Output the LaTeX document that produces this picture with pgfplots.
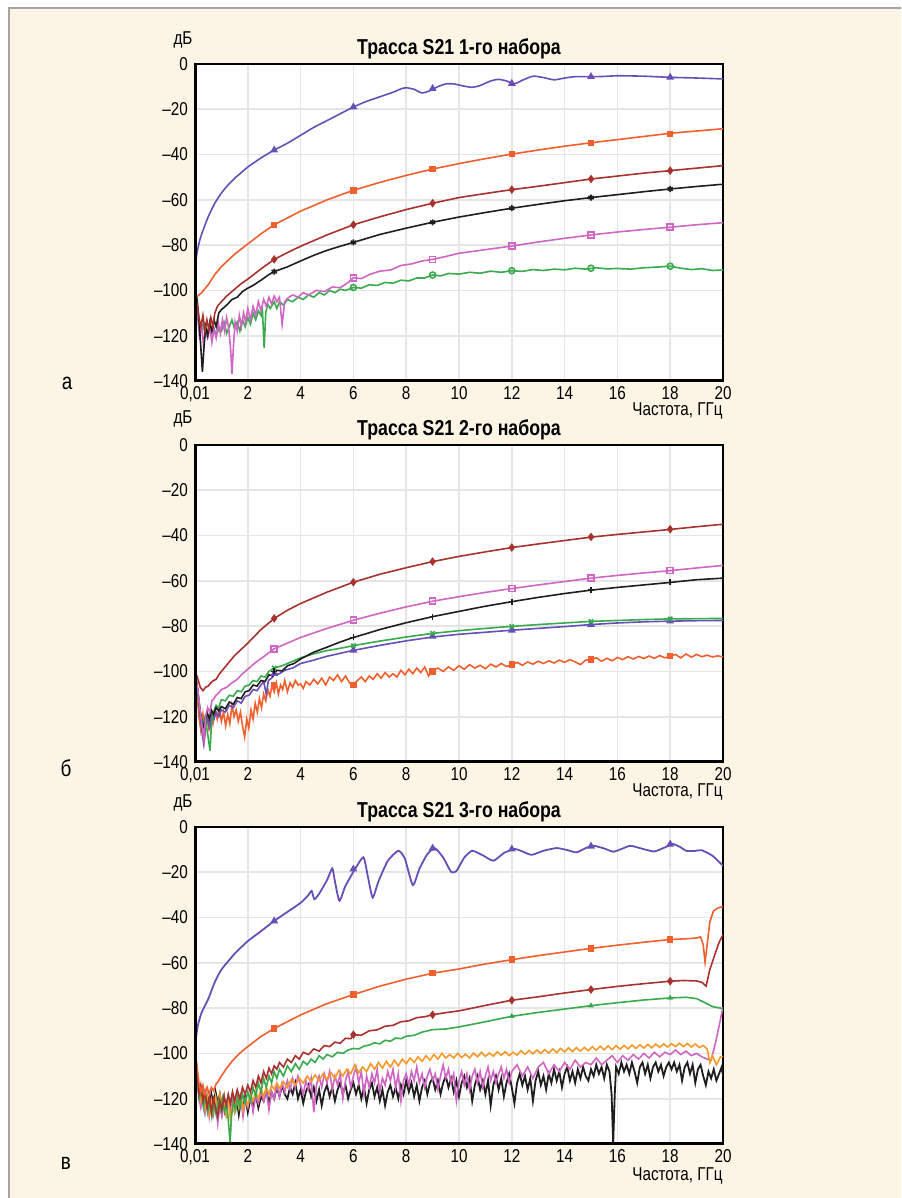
\documentclass[border=0pt]{standalone}
\usepackage{pgfplots}
\pgfplotsset{compat=1.18}
\usepackage{fontspec}
\setmainfont{Liberation Sans}[FakeStretch=0.82]

\definecolor{cream}{RGB}{252,245,230}
\definecolor{frame}{RGB}{165,165,165}
\definecolor{cpurple}{RGB}{102,80,184}
\definecolor{cred}{RGB}{240,96,47}
\definecolor{cbrown}{RGB}{168,50,45}
\definecolor{cpink}{RGB}{208,102,196}
\definecolor{cgreen}{RGB}{58,170,78}
\definecolor{corange}{RGB}{245,154,42}
\definecolor{cblack}{RGB}{30,30,30}

\pgfplotsset{
  panel/.style={
    scale only axis, width=264pt, height=158.5pt, anchor=south west,
    xmin=0, xmax=20, ymin=-140, ymax=0,
    xtick={0,2,...,20}, xticklabels={{0,01},2,4,6,8,10,12,14,16,18,20},
    ytick={-140,-120,...,0}, yticklabels={--140,--120,--100,--80,--60,--40,--20,0},
    major tick length=0pt, grid=major, grid style={black!10, line width=0.8pt},
    axis line style={line width=0.7pt},
    tick label style={font=\fontsize{9.3}{11}\selectfont},
    xticklabel style={inner sep=1pt, yshift=-1.5pt},
    axis background/.style={fill=white},
    every axis plot/.append style={line width=0.8pt},
  },
  mk/.style={only marks, mark size=1.5pt},
}
\newcommand\tick{\fontsize{9.3}{11}\selectfont}
\newcommand\ttl{\bfseries\fontsize{10.8}{12}\selectfont}

\begin{document}
\begin{tikzpicture}
\useasboundingbox (0,0) rectangle (450.5pt,599pt);
\fill[white] (0,0) rectangle (450.5pt,599pt);
\fill[cream] (4.5pt,0) rectangle (450.5pt,595pt);
\draw[frame, line width=1pt] (4.5pt,0) -- (4.5pt,595pt) -- (450.5pt,595pt);

% ---------- panel a
\begin{axis}[panel, name=p1, at={(97.5pt,408.5pt)}]
\addplot[cgreen] coordinates {(0.01,-104) (0.1,-112) (0.2,-118) (0.3,-115) (0.4,-120) (0.5,-117) (0.6,-119) (0.7,-116) (0.8,-120) (0.9,-117) (1,-118) (1.1,-114) (1.2,-119) (1.3,-116) (1.4,-113) (1.5,-117) (1.6,-114) (1.7,-118) (1.8,-113) (1.9,-116) (2,-112) (2.1,-115) (2.2,-110) (2.3,-113) (2.4,-109) (2.5,-111) (2.55,-108) (2.62,-125.5) (2.68,-110) (2.75,-106) (2.85,-108) (3,-105) (3.1,-108) (3.2,-105) (3.35,-106.5) (3.5,-104) (3.7,-105) (3.9,-103) (4.1,-104) (4.3,-102) (4.5,-103) (4.7,-101) (4.9,-102) (5.1,-100) (5.3,-101) (5.5,-99.5) (5.7,-100) (6,-98.7) (6.3,-99) (6.6,-97.5) (6.9,-97.8) (7.2,-96.5) (7.5,-96.8) (7.8,-95.5) (8.1,-95.8) (8.4,-94.5) (8.7,-94.5) (9,-93.2) (9.3,-93.6) (9.6,-92.5) (10,-92.8) (10.4,-92) (10.8,-92.4) (11.2,-91.5) (11.6,-92) (12,-91.3) (12.4,-91.6) (12.8,-90.8) (13.2,-91.2) (13.6,-90.6) (14,-90.9) (14.4,-90.2) (14.8,-90.6) (15.2,-90) (15.6,-90.5) (16,-90.3) (16.5,-90.6) (17,-90) (17.5,-89.7) (18,-89.3) (18.4,-90.2) (18.8,-90.8) (19.2,-90.4) (19.6,-91.2) (20,-91)};
\addplot[cgreen, mk, mark=o] coordinates {(6,-98.7) (9,-93.2) (12,-91.3) (15,-90.2) (18,-89.3)};
\addplot[cpink] coordinates {(0.01,-100) (0.1,-110) (0.18,-122) (0.25,-114) (0.32,-124) (0.4,-118) (0.48,-121) (0.56,-116) (0.64,-123) (0.72,-117) (0.8,-121) (0.88,-114) (0.96,-119) (1.04,-113) (1.12,-118) (1.2,-112) (1.28,-117) (1.35,-126) (1.4,-137) (1.46,-124) (1.52,-114) (1.6,-118) (1.68,-111) (1.76,-116) (1.84,-110) (1.92,-114) (2,-108) (2.1,-113) (2.2,-107) (2.3,-111) (2.4,-105) (2.5,-109) (2.6,-104) (2.7,-107) (2.8,-103) (2.9,-106) (3,-102.5) (3.1,-105) (3.2,-103) (3.3,-115) (3.4,-105) (3.5,-103.5) (3.7,-102) (3.9,-103) (4.1,-101) (4.3,-102) (4.6,-100) (4.9,-100.5) (5.2,-98.5) (5.5,-98.8) (5.8,-96.5) (6,-94.4) (6.3,-94.8) (6.6,-93) (7,-91.5) (7.4,-91) (7.8,-89) (8.2,-88.3) (8.6,-87) (9,-86.3) (9.5,-85) (10,-83.6) (11,-82) (12,-80.4) (13,-78.6) (14,-77) (15,-75.5) (16,-74.2) (17,-73.1) (18,-72.1) (19,-71) (20,-70.1)};
\addplot[cpink, mk, mark=square] coordinates {(6,-94.4) (9,-86.3) (12,-80.4) (15,-75.5) (18,-72.1)};
\addplot[cblack] coordinates {(0.01,-100) (0.08,-104) (0.15,-113) (0.22,-125) (0.28,-136) (0.33,-127) (0.4,-116) (0.48,-120) (0.56,-114) (0.64,-118) (0.72,-113) (0.8,-116) (0.9,-110) (1,-108.5) (1.2,-106.5) (1.4,-104) (1.6,-103) (1.8,-100.5) (2,-99) (2.2,-97.8) (2.5,-95.5) (2.8,-93) (3,-91.7) (3.5,-89.6) (4,-87) (4.5,-84.5) (5,-82.3) (5.5,-80.5) (6,-78.8) (7,-75.3) (8,-72.5) (9,-69.9) (10,-67.6) (11,-65.6) (12,-63.7) (13,-62) (14,-60.4) (15,-59) (16,-57.7) (17,-56.4) (18,-55.2) (19,-54.1) (20,-53.1)};
\addplot[cblack, mk, mark=asterisk] coordinates {(3,-91.7) (6,-78.8) (9,-69.9) (12,-63.7) (15,-59) (18,-55.2)};
\addplot[cbrown] coordinates {(0.01,-103) (0.08,-106) (0.15,-112) (0.22,-116) (0.3,-111) (0.38,-118) (0.45,-113) (0.52,-117) (0.6,-112) (0.68,-116) (0.75,-110) (0.85,-107) (1,-105) (1.2,-102.5) (1.5,-99.5) (1.75,-97) (2,-95) (2.5,-90.5) (3,-86.3) (3.5,-83.3) (4,-80.5) (5,-75.5) (6,-71) (7,-67.5) (8,-64.3) (9,-61.5) (10,-59) (11,-57.2) (12,-55.5) (13,-54) (14,-52.4) (15,-50.8) (16,-49.5) (17,-48.2) (18,-47.1) (19,-46) (20,-44.9)};
\addplot[cbrown, mk, mark=diamond*] coordinates {(3,-86.3) (6,-71) (9,-61.5) (12,-55.5) (15,-50.8) (18,-47.1)};
\addplot[cred] coordinates {(0.01,-103) (0.1,-102.5) (0.25,-101) (0.5,-97.5) (0.75,-93) (1,-89.5) (1.5,-84) (2,-79.5) (2.5,-75) (3,-71) (3.5,-68) (4,-65) (5,-60) (6,-55.8) (7,-52.3) (8,-49.2) (9,-46.4) (10,-44) (11,-41.8) (12,-39.8) (13,-38) (14,-36.3) (15,-34.8) (16,-33.4) (17,-32) (18,-30.6) (19,-29.6) (20,-28.6)};
\addplot[cred, mk, mark=square*, mark size=1.2pt] coordinates {(3,-71) (6,-55.8) (9,-46.4) (12,-39.8) (15,-34.8) (18,-30.8)};
\addplot[cpurple, smooth, tension=0.4] coordinates {(0.01,-88) (0.1,-82) (0.2,-77) (0.35,-72) (0.5,-67.5) (0.75,-61.5) (1,-57) (1.25,-53.5) (1.5,-50.5) (1.75,-48) (2,-45.5) (2.5,-41.5) (3,-38) (3.5,-35) (4,-31.5) (4.5,-28) (5,-25) (5.5,-22) (6,-19) (6.5,-16.5) (7,-14.5) (7.5,-12.5) (7.8,-11) (8,-10.5) (8.3,-11.2) (8.6,-12.8) (8.9,-11.8) (9.2,-10) (9.5,-8.8) (9.8,-8.8) (10.2,-9.8) (10.5,-10.3) (10.8,-9.5) (11.2,-7.5) (11.5,-6.8) (11.8,-7.5) (12.1,-8.7) (12.4,-7.2) (12.8,-5.4) (13.2,-6) (13.6,-7) (14,-6.2) (14.4,-5.6) (15,-5.6) (15.5,-5.5) (16,-5.2) (17,-5.4) (18,-5.9) (19,-6.2) (20,-6.6)};
\addplot[cpurple, mk, mark=triangle*] coordinates {(3,-38) (6,-19) (9,-10.9) (12,-8.6) (15,-5.6) (18,-5.9)};
\end{axis}
\draw[line width=1.5pt] (p1.north west) -- (p1.south west) -- (p1.south east);
\node[anchor=base, font=\ttl] at ([yshift=4.5pt]p1.north) {Трасса S21 1-го набора};
\node[font=\tick] at ([xshift=-6pt,yshift=12pt]p1.north west) {дБ};
\node[anchor=base east, font=\tick, inner sep=0pt] at ([yshift=-17.5pt]p1.south east) {Частота, ГГц};
\node[anchor=base, font=\fontsize{11.5}{13}\selectfont] at ([xshift=-64pt,yshift=-4.5pt]p1.south west) {а};

% ---------- panel b
\begin{axis}[panel, name=p2, at={(97.5pt,218pt)}]
\addplot[cred] coordinates {(0.01,-102) (0.08,-110) (0.15,-120) (0.22,-126) (0.3,-119) (0.38,-128) (0.45,-121) (0.52,-125) (0.6,-118) (0.68,-123) (0.76,-117) (0.84,-121) (0.92,-116) (1,-122) (1.08,-118) (1.16,-124) (1.24,-119) (1.32,-123) (1.4,-115) (1.48,-120) (1.56,-117) (1.64,-122) (1.72,-118) (1.8,-124) (1.88,-129) (1.96,-121) (2.04,-125) (2.12,-117) (2.2,-121) (2.28,-114) (2.36,-118) (2.44,-112) (2.52,-116) (2.6,-110) (2.68,-113) (2.76,-108) (2.84,-111) (2.92,-106) (3,-109) (3.08,-105) (3.16,-110) (3.24,-106) (3.32,-108) (3.4,-104) (3.5,-109) (3.6,-105) (3.7,-107) (3.8,-104) (3.9,-106) (4,-105.5) (4.1,-107.5) (4.2,-104.5) (4.35,-106) (4.5,-103.5) (4.65,-105.5) (4.8,-103) (4.95,-106) (5.1,-102.5) (5.25,-104) (5.4,-101.5) (5.55,-104.5) (5.7,-102) (5.85,-105) (6,-106) (6.15,-104) (6.3,-102.5) (6.45,-104.5) (6.6,-102) (6.75,-103.5) (6.9,-101) (7.05,-103) (7.2,-100.5) (7.35,-102.5) (7.5,-101) (7.65,-102.5) (7.8,-99.5) (7.95,-101.5) (8.1,-99) (8.25,-101) (8.4,-98.5) (8.55,-100.5) (8.7,-98) (8.85,-102) (9,-99.5) (9.2,-98.5) (9.4,-100) (9.6,-98) (9.8,-99.5) (10,-97.5) (10.2,-99) (10.4,-97) (10.6,-98.5) (10.8,-97.3) (11,-98.8) (11.2,-96.8) (11.4,-98) (11.6,-96.5) (11.8,-97.8) (12,-97.2) (12.2,-96) (12.4,-97.3) (12.6,-95.8) (12.8,-96.8) (13,-95.5) (13.2,-96.5) (13.4,-95.3) (13.6,-96.3) (13.8,-95) (14,-96) (14.2,-94.8) (14.4,-95.8) (14.6,-97) (14.8,-95) (15,-94.8) (15.2,-94) (15.4,-95.5) (15.6,-94.2) (15.8,-95.3) (16,-93.8) (16.2,-94.8) (16.4,-93.5) (16.6,-94.5) (16.8,-93.4) (17,-94.3) (17.2,-93.2) (17.4,-94.2) (17.6,-93) (17.8,-94) (18,-93.3) (18.2,-92.5) (18.4,-94) (18.6,-92.3) (18.8,-93.7) (19,-92.5) (19.2,-93.5) (19.4,-92.8) (19.6,-93.6) (19.8,-93.1) (20,-93.6)};
\addplot[cred, mk, mark=square*, mark size=1.2pt] coordinates {(3,-106) (6,-106) (9,-100) (12,-97) (15,-94.8) (18,-93.3)};
\addplot[cpurple] coordinates {(0.01,-100) (0.1,-108) (0.2,-120) (0.28,-128) (0.33,-132) (0.4,-124) (0.48,-121) (0.56,-125) (0.64,-119) (0.72,-121) (0.8,-118) (0.9,-120) (1,-117) (1.15,-118) (1.3,-115) (1.45,-116) (1.6,-113) (1.75,-114) (1.9,-111) (2.05,-110.5) (2.2,-108) (2.35,-108.5) (2.5,-106) (2.6,-104.5) (2.7,-110) (2.78,-104) (2.9,-103) (3,-101.5) (3.2,-101) (3.4,-99.5) (3.7,-98.5) (4,-96.5) (4.5,-95) (5,-93.3) (5.5,-92) (6,-90.7) (7,-88.5) (8,-86.5) (9,-84.8) (10,-83.6) (11,-82.7) (12,-81.8) (13,-81) (14,-80.2) (15,-79.3) (16,-78.6) (17,-78.1) (18,-77.8) (19,-77.6) (20,-77.5)};
\addplot[cpurple, mk, mark=triangle*] coordinates {(3,-101) (6,-90.7) (9,-84.5) (12,-81.8) (15,-79.3) (18,-77.8)};
\addplot[cgreen] coordinates {(0.01,-102) (0.1,-110) (0.2,-118) (0.3,-123) (0.38,-120) (0.46,-126) (0.52,-131) (0.57,-135) (0.62,-124) (0.7,-118) (0.8,-115) (0.9,-116) (1,-112.5) (1.15,-113) (1.3,-110.5) (1.45,-111) (1.6,-108.5) (1.75,-109) (1.9,-106.5) (2.05,-106) (2.2,-104) (2.35,-104.5) (2.5,-102) (2.65,-102.5) (2.8,-100) (3,-98.5) (3.3,-97.5) (3.6,-96) (4,-94) (4.5,-92.2) (5,-90.8) (5.5,-89.8) (6,-88.6) (7,-86.6) (8,-84.8) (9,-83.2) (10,-82) (11,-81) (12,-80.1) (13,-79.3) (14,-78.6) (15,-77.9) (16,-77.5) (17,-77.1) (18,-76.8) (19,-76.7) (20,-76.6)};
\addplot[cgreen, mk, mark=x] coordinates {(3,-98.5) (6,-88.6) (9,-83.2) (12,-80.1) (15,-77.9) (18,-76.8)};
\addplot[cblack] coordinates {(0.01,-102) (0.1,-108) (0.2,-118) (0.3,-125) (0.38,-122) (0.46,-118) (0.54,-121) (0.62,-117) (0.7,-119) (0.8,-116) (0.9,-117.5) (1,-115.5) (1.15,-116.5) (1.3,-113.5) (1.45,-114.5) (1.6,-111.5) (1.75,-112) (1.9,-109) (2.05,-108.5) (2.2,-106) (2.35,-106.5) (2.5,-104) (2.65,-104.5) (2.8,-101.5) (2.95,-102) (3.1,-99.5) (3.3,-99.8) (3.5,-97.5) (3.75,-96.5) (4,-94.5) (4.5,-91.5) (5,-89.3) (5.5,-87) (6,-85) (6.5,-83.3) (7,-81.5) (7.5,-80) (8,-78.5) (9,-75.8) (10,-73.5) (11,-71.2) (12,-69.2) (13,-67.3) (14,-65.6) (15,-64.1) (16,-62.9) (17,-61.8) (18,-60.7) (19,-59.5) (20,-58.8)};
\addplot[cblack, mk, mark=+] coordinates {(3,-100) (6,-85) (9,-75.8) (12,-69.2) (15,-64.1) (18,-60.7)};
\addplot[cpink] coordinates {(0.01,-101) (0.1,-108) (0.2,-118) (0.28,-125) (0.34,-130) (0.4,-120) (0.48,-116) (0.56,-118) (0.64,-113) (0.72,-112) (0.8,-110.5) (0.9,-109.5) (1,-108) (1.2,-107) (1.4,-105) (1.6,-103.5) (1.8,-101) (2,-99) (2.3,-96) (2.6,-93.5) (3,-90) (3.5,-87.5) (4,-85) (5,-81) (6,-77.4) (7,-74.3) (8,-71.5) (9,-69) (10,-67) (11,-65.1) (12,-63.4) (13,-61.8) (14,-60.3) (15,-58.8) (16,-57.6) (17,-56.5) (18,-55.5) (19,-54.3) (20,-53.2)};
\addplot[cpink, mk, mark=square] coordinates {(3,-90) (6,-77.4) (9,-69) (12,-63.4) (15,-58.8) (18,-55.5)};
\addplot[cbrown] coordinates {(0.01,-100) (0.1,-103) (0.2,-107) (0.3,-108.5) (0.4,-107) (0.5,-106.5) (0.6,-105) (0.7,-104) (0.8,-103.5) (0.9,-101.5) (1,-100) (1.25,-96.5) (1.5,-93) (2,-87.5) (2.5,-81.5) (3,-76.6) (3.5,-73) (4,-70) (5,-65) (6,-60.6) (7,-57.1) (8,-54.2) (9,-51.5) (10,-49.2) (11,-47.2) (12,-45.3) (13,-43.7) (14,-42.2) (15,-40.7) (16,-39.5) (17,-38.4) (18,-37.3) (19,-36.1) (20,-35)};
\addplot[cbrown, mk, mark=diamond*] coordinates {(3,-76.6) (6,-60.6) (9,-51.5) (12,-45.3) (15,-40.6) (18,-37.2)};
\end{axis}
\draw[line width=1.5pt] (p2.north west) -- (p2.south west) -- (p2.south east);
\node[anchor=base, font=\ttl] at ([yshift=4.5pt]p2.north) {Трасса S21 2-го набора};
\node[font=\tick] at ([xshift=-6pt,yshift=13pt]p2.north west) {дБ};
\node[anchor=base east, font=\tick, inner sep=0pt] at ([yshift=-17.5pt]p2.south east) {Частота, ГГц};
\node[anchor=base, font=\fontsize{11.5}{13}\selectfont] at ([xshift=-64.5pt,yshift=-7.3pt]p2.south west) {б};

% ---------- panel c
\begin{axis}[panel, name=p3, at={(97.5pt,27pt)}]
\addplot[cblack, line width=0.9pt] coordinates {(0.01,-100) (0.08,-109) (0.15,-118) (0.22,-122) (0.3,-117) (0.38,-125) (0.46,-119) (0.54,-124) (0.62,-118) (0.7,-123) (0.78,-117) (0.86,-122) (0.94,-118) (1.02,-124) (1.1,-119) (1.18,-126) (1.26,-120) (1.34,-123) (1.42,-118) (1.5,-125) (1.58,-120) (1.66,-127) (1.74,-121) (1.82,-124) (1.9,-119) (2,-126) (2.1,-120) (2.2,-123) (2.3,-118) (2.4,-124) (2.5,-119) (2.6,-121) (2.7,-116) (2.8,-122) (2.9,-117) (3,-120) (3.1,-115) (3.2,-119) (3.3,-114) (3.4,-118) (3.5,-120) (3.6,-115) (3.7,-118) (3.8,-113) (3.9,-120) (4,-116) (4.1,-122) (4.2,-117) (4.3,-114) (4.4,-119) (4.5,-115) (4.6,-121) (4.7,-116) (4.8,-123) (4.9,-117) (5,-114) (5.1,-119) (5.2,-115) (5.3,-121) (5.4,-116) (5.5,-113) (5.6,-118) (5.7,-114) (5.8,-120) (5.9,-116) (6,-113) (6.1,-118) (6.2,-114) (6.3,-120) (6.4,-115) (6.5,-122) (6.6,-116) (6.7,-113) (6.8,-119) (6.9,-115) (7,-121) (7.1,-116) (7.2,-123) (7.3,-117) (7.4,-114) (7.5,-119) (7.6,-115) (7.7,-120) (7.8,-114) (7.9,-118) (8,-112) (8.1,-117) (8.2,-113) (8.3,-119) (8.4,-114) (8.5,-121) (8.6,-115) (8.7,-112) (8.8,-118) (8.9,-113) (9,-111) (9.1,-116) (9.2,-112) (9.3,-118) (9.4,-113) (9.5,-110) (9.6,-115) (9.7,-111) (9.8,-117) (9.9,-112) (10,-119) (10.1,-113) (10.2,-110) (10.3,-115) (10.4,-111) (10.5,-121) (10.6,-114) (10.7,-110) (10.8,-116) (10.9,-112) (11,-118) (11.1,-112) (11.2,-123) (11.3,-114) (11.4,-110) (11.5,-116) (11.6,-111) (11.7,-119) (11.8,-113) (11.9,-109) (12,-115) (12.1,-122) (12.2,-113) (12.3,-109) (12.4,-114) (12.5,-110) (12.6,-116) (12.7,-111) (12.8,-121) (12.9,-112) (13,-108) (13.1,-114) (13.2,-110) (13.3,-116) (13.4,-109) (13.5,-113) (13.6,-107) (13.7,-112) (13.8,-108) (13.9,-115) (14,-109) (14.1,-106) (14.2,-112) (14.3,-108) (14.4,-113) (14.5,-107) (14.6,-111) (14.7,-106) (14.8,-110) (14.9,-112) (15,-107) (15.1,-110) (15.2,-105) (15.3,-109) (15.4,-106) (15.5,-111) (15.6,-105) (15.7,-108) (15.78,-118) (15.84,-140) (15.9,-118) (15.95,-106) (16.05,-109) (16.15,-104) (16.25,-108) (16.35,-105) (16.45,-109) (16.55,-104) (16.65,-108) (16.75,-113) (16.85,-106) (16.95,-104) (17.05,-109) (17.15,-105) (17.25,-111) (17.35,-106) (17.45,-104) (17.55,-108) (17.65,-105) (17.75,-110) (17.85,-106) (17.95,-104) (18.05,-107) (18.15,-104) (18.25,-108) (18.35,-105) (18.45,-112) (18.55,-106) (18.65,-104) (18.75,-109) (18.85,-105) (18.95,-113) (19.05,-107) (19.15,-105) (19.25,-110) (19.35,-114) (19.45,-108) (19.55,-111) (19.65,-107) (19.75,-112) (19.85,-109) (19.95,-106) (20,-110)};
\addplot[cpink] coordinates {(0.01,-100) (0.08,-110) (0.15,-120) (0.22,-124) (0.3,-118) (0.38,-126) (0.46,-120) (0.54,-128) (0.62,-121) (0.7,-127) (0.78,-122) (0.86,-131) (0.94,-123) (1.02,-128) (1.1,-121) (1.18,-126) (1.26,-120) (1.34,-125) (1.42,-119) (1.5,-124) (1.58,-118) (1.66,-123) (1.74,-120) (1.82,-128) (1.9,-121) (2,-124) (2.1,-118) (2.2,-126) (2.3,-119) (2.4,-122) (2.5,-117) (2.6,-121) (2.7,-116) (2.8,-125) (2.9,-117) (3,-120) (3.1,-114) (3.2,-119) (3.3,-113) (3.4,-117) (3.5,-112) (3.6,-116) (3.7,-111) (3.8,-115) (3.9,-110) (4,-114) (4.1,-118) (4.2,-112) (4.3,-116) (4.4,-111) (4.5,-126) (4.6,-114) (4.7,-110) (4.8,-115) (4.9,-109) (5,-113) (5.1,-108) (5.2,-116) (5.3,-110) (5.4,-114) (5.5,-109) (5.6,-120) (5.7,-112) (5.8,-108) (5.9,-115) (6,-110) (6.1,-106) (6.2,-113) (6.3,-108) (6.4,-118) (6.5,-110) (6.6,-115) (6.7,-109) (6.8,-113) (6.9,-107) (7,-117) (7.1,-111) (7.2,-114) (7.3,-108) (7.4,-112) (7.5,-107) (7.6,-115) (7.7,-109) (7.8,-121) (7.9,-112) (8,-109) (8.1,-114) (8.2,-108) (8.3,-112) (8.4,-106) (8.5,-113) (8.6,-109) (8.7,-115) (8.8,-110) (8.9,-107) (9,-112) (9.1,-109) (9.2,-116) (9.3,-110) (9.4,-105) (9.5,-111) (9.6,-107) (9.7,-113) (9.8,-109) (9.9,-121) (10,-112) (10.1,-108) (10.2,-114) (10.3,-109) (10.4,-116) (10.5,-110) (10.6,-107) (10.7,-113) (10.8,-108) (10.9,-115) (11,-110) (11.1,-106) (11.2,-112) (11.3,-108) (11.4,-113) (11.5,-109) (11.6,-106) (11.7,-111) (11.8,-107) (11.9,-113) (12,-108) (12.2,-105) (12.4,-110) (12.6,-106) (12.8,-111) (13,-106) (13.2,-104) (13.4,-109) (13.6,-105) (13.8,-108) (14,-104) (14.2,-107) (14.4,-103) (14.6,-106) (14.8,-104) (15,-105) (15.2,-102) (15.4,-105) (15.6,-103) (15.8,-101) (16,-104) (16.2,-101) (16.4,-103) (16.6,-100.5) (16.8,-102.5) (17,-100) (17.2,-102) (17.4,-99.5) (17.6,-101.5) (17.8,-99.5) (18,-100.5) (18.2,-98.5) (18.4,-100.5) (18.6,-99) (18.8,-101) (19,-100) (19.2,-101.5) (19.4,-102.5) (19.55,-103) (19.7,-96) (19.85,-88) (20,-79.5)};
\addplot[corange] coordinates {(0.01,-100) (0.08,-108) (0.15,-116) (0.22,-121) (0.3,-117) (0.38,-124) (0.46,-119) (0.54,-127) (0.62,-121) (0.7,-125) (0.78,-119) (0.86,-124) (0.94,-118) (1.02,-123) (1.1,-119) (1.18,-127) (1.26,-121) (1.34,-129) (1.42,-123) (1.5,-126) (1.58,-120) (1.66,-124) (1.74,-119) (1.82,-125) (1.9,-120) (2,-123) (2.1,-118) (2.2,-121) (2.3,-117) (2.4,-120) (2.5,-115.5) (2.6,-119) (2.7,-115) (2.8,-118) (2.9,-114) (3,-116) (3.1,-113) (3.2,-115.5) (3.35,-112.5) (3.5,-115) (3.65,-111.5) (3.8,-114) (3.95,-111) (4.1,-113) (4.25,-110) (4.4,-112.5) (4.55,-109.5) (4.7,-112) (4.85,-109) (5,-111.5) (5.15,-108.5) (5.3,-111) (5.45,-107.5) (5.6,-110) (5.75,-107) (5.9,-109) (6.05,-105) (6.2,-108.5) (6.35,-106) (6.5,-108) (6.65,-104.5) (6.8,-107) (6.95,-104) (7.1,-106.5) (7.25,-103.5) (7.4,-106) (7.55,-103) (7.7,-105.5) (7.85,-102.5) (8,-104.5) (8.15,-102) (8.3,-104) (8.45,-101.5) (8.6,-103.5) (8.75,-101) (8.9,-103) (9.05,-100.5) (9.2,-102.5) (9.35,-100) (9.5,-102) (9.65,-100.5) (9.8,-102) (9.95,-100) (10.1,-101.8) (10.25,-100.3) (10.4,-102) (10.55,-99.8) (10.7,-101.5) (10.85,-99.5) (11,-101.3) (11.15,-99.8) (11.3,-101.2) (11.45,-99.3) (11.6,-100.8) (11.75,-99.2) (11.9,-101) (12.05,-99.5) (12.2,-100.7) (12.35,-98.8) (12.5,-100.4) (12.65,-98.7) (12.8,-100.2) (12.95,-98.5) (13.1,-100) (13.25,-98.3) (13.4,-99.8) (13.55,-98) (13.7,-99.6) (13.85,-97.8) (14,-99.3) (14.15,-97.5) (14.3,-99.2) (14.45,-97.4) (14.6,-99) (14.75,-97.3) (14.9,-98.8) (15.05,-97) (15.2,-98.6) (15.35,-96.8) (15.5,-98.4) (15.65,-96.7) (15.8,-98.3) (15.95,-96.6) (16.1,-98.1) (16.25,-96.5) (16.4,-98) (16.55,-96.3) (16.7,-97.8) (16.85,-96.2) (17,-97.6) (17.15,-96) (17.3,-97.5) (17.45,-95.9) (17.6,-97.3) (17.75,-95.8) (17.9,-97.2) (18.05,-95.7) (18.2,-97) (18.35,-95.5) (18.5,-97) (18.65,-95.6) (18.8,-97.2) (18.95,-95.8) (19.1,-97.4) (19.25,-96.5) (19.4,-98) (19.5,-104) (19.6,-101) (19.75,-105) (19.9,-101.5) (20,-101.3)};
\addplot[cgreen] coordinates {(0.01,-100) (0.08,-110) (0.16,-120) (0.24,-116) (0.32,-124) (0.4,-119) (0.48,-126) (0.56,-121) (0.64,-128) (0.72,-122) (0.8,-127) (0.88,-121) (0.96,-125) (1.04,-120) (1.12,-126) (1.2,-122) (1.28,-132) (1.33,-139.5) (1.38,-128) (1.46,-121) (1.54,-125) (1.62,-119) (1.7,-124) (1.8,-118) (1.9,-122) (2,-117) (2.1,-121) (2.2,-115) (2.3,-119) (2.4,-113) (2.5,-117) (2.6,-111) (2.7,-115) (2.8,-110) (2.9,-113) (3,-108) (3.1,-111) (3.2,-107) (3.35,-110) (3.5,-105.5) (3.65,-108) (3.8,-104.5) (3.95,-107) (4.1,-103.5) (4.25,-105) (4.4,-102.5) (4.55,-104) (4.7,-101) (4.85,-102.5) (5,-100.5) (5.2,-101.5) (5.4,-99.5) (5.6,-100) (5.8,-98.5) (6,-97.8) (6.2,-98) (6.4,-96.8) (6.6,-96.3) (6.8,-95.3) (7,-95.8) (7.2,-94.2) (7.4,-94.6) (7.6,-93.2) (7.8,-93.5) (8,-92.4) (8.3,-92) (8.6,-90.6) (9,-89.5) (9.5,-89.2) (10,-88.3) (11,-86) (12,-83.6) (13,-81.9) (14,-80.4) (15,-78.9) (16,-77.6) (17,-76.4) (18,-75.5) (18.6,-75.2) (19,-75.8) (19.3,-77.5) (19.6,-79.3) (20,-80.2)};
\addplot[cgreen, only marks, mark=triangle*, mark size=0.9pt] coordinates {(12,-83.6) (15,-78.9) (18,-75.5)};
\addplot[cbrown] coordinates {(0.01,-100) (0.08,-108) (0.15,-118) (0.22,-114) (0.3,-121) (0.38,-117) (0.46,-124) (0.54,-119) (0.62,-126) (0.7,-120) (0.78,-124) (0.86,-128) (0.94,-121) (1.02,-125) (1.1,-119) (1.18,-123) (1.26,-118) (1.34,-122) (1.42,-117) (1.5,-121) (1.6,-116) (1.7,-120) (1.8,-115) (1.9,-118) (2,-114) (2.1,-117) (2.2,-112) (2.3,-115) (2.4,-110) (2.5,-113) (2.6,-108) (2.7,-111) (2.8,-106.5) (2.9,-109) (3,-105.5) (3.1,-107) (3.2,-104) (3.35,-106) (3.5,-102.5) (3.65,-104) (3.8,-101) (3.95,-102.5) (4.1,-99.5) (4.3,-100.5) (4.5,-98) (4.7,-99) (4.9,-96.5) (5.1,-97) (5.3,-95) (5.5,-95.5) (5.7,-93.3) (5.9,-93.5) (6,-91.7) (6.3,-92) (6.6,-90) (6.9,-89.6) (7.2,-88) (7.5,-87.6) (7.8,-86) (8.1,-85.6) (8.4,-84.2) (8.7,-83.8) (9,-82.9) (9.5,-82) (10,-81.2) (11,-78.8) (12,-76.5) (13,-75) (14,-73.3) (15,-71.8) (16,-70.4) (17,-69.2) (18,-68.1) (18.5,-67.8) (19,-68) (19.2,-68.6) (19.36,-70.3) (19.5,-63) (19.7,-56) (19.85,-51) (20,-47.5)};
\addplot[cbrown, mk, mark=diamond*] coordinates {(6,-91.7) (9,-82.9) (12,-76.5) (15,-71.8) (18,-68.1)};
\addplot[cred] coordinates {(0.01,-100) (0.08,-106) (0.15,-113) (0.22,-117) (0.3,-114) (0.38,-118) (0.46,-115) (0.54,-118) (0.62,-115) (0.7,-116.5) (0.8,-113.5) (0.9,-112) (1,-110) (1.2,-106.5) (1.4,-103.5) (1.6,-101) (1.8,-98.8) (2,-97) (2.5,-92.5) (3,-89) (3.5,-86) (4,-83) (5,-78) (6,-74) (7,-70.3) (8,-67.2) (9,-64.6) (10,-62.7) (11,-60.5) (12,-58.6) (13,-56.8) (14,-55.2) (15,-53.6) (16,-52.2) (17,-50.9) (18,-49.7) (18.7,-49.3) (19,-49) (19.15,-48.5) (19.25,-52) (19.32,-59.7) (19.4,-52) (19.5,-42) (19.64,-37.1) (19.8,-35.8) (20,-35.1)};
\addplot[cred, mk, mark=square*, mark size=1.2pt] coordinates {(3,-89) (6,-74) (9,-64.6) (12,-58.6) (15,-53.6) (18,-49.7)};
\addplot[cpurple, line width=0.9pt, smooth, tension=0.35] coordinates {(0.01,-96) (0.1,-88) (0.25,-82) (0.5,-76) (0.75,-68.5) (1,-63) (1.5,-56) (2,-50.4) (2.5,-46) (3,-41.5) (3.5,-37.5) (4,-33.5) (4.3,-30) (4.42,-28.2) (4.52,-31.9) (4.7,-29.5) (5,-23.5) (5.2,-18.3) (5.3,-24) (5.47,-32.6) (5.7,-26) (6.06,-18.6) (6.38,-13.4) (6.55,-22) (6.73,-31.2) (6.95,-24) (7.3,-15) (7.7,-10.5) (7.95,-14) (8.25,-25.7) (8.5,-18.5) (8.8,-12) (9.09,-9.4) (9.4,-13.5) (9.7,-19.8) (9.9,-19.5) (10.2,-13.5) (10.5,-10.5) (10.9,-12.5) (11.3,-14.9) (11.7,-11.5) (12.1,-9.7) (12.4,-10.8) (12.75,-12.3) (13.2,-10.5) (13.7,-9.3) (14.1,-10.2) (14.45,-11.2) (14.8,-9.3) (15.1,-8.3) (15.5,-9.5) (15.85,-10.9) (16.2,-9.5) (16.5,-8.3) (17,-9.8) (17.4,-10.8) (17.8,-9) (18.1,-7.5) (18.4,-9) (18.6,-10.5) (18.9,-10.6) (19.2,-10.3) (19.6,-12.7) (20,-17.1)};
\addplot[cpurple, mk, mark=triangle*] coordinates {(3,-41.5) (6,-18.6) (9,-9.4) (12,-9.8) (15,-8.5) (18,-7.6)};
\end{axis}
\draw[line width=1.5pt] (p3.north west) -- (p3.south west) -- (p3.south east);
\node[anchor=base, font=\ttl] at ([yshift=4.5pt]p3.north) {Трасса S21 3-го набора};
\node[font=\tick] at ([xshift=-6pt,yshift=12pt]p3.north west) {дБ};
\node[anchor=base east, font=\tick, inner sep=0pt] at ([yshift=-18pt]p3.south east) {Частота, ГГц};
\node[anchor=base, font=\fontsize{11.5}{13}\selectfont] at ([xshift=-64.5pt,yshift=-13pt]p3.south west) {в};
\end{tikzpicture}
\end{document}
